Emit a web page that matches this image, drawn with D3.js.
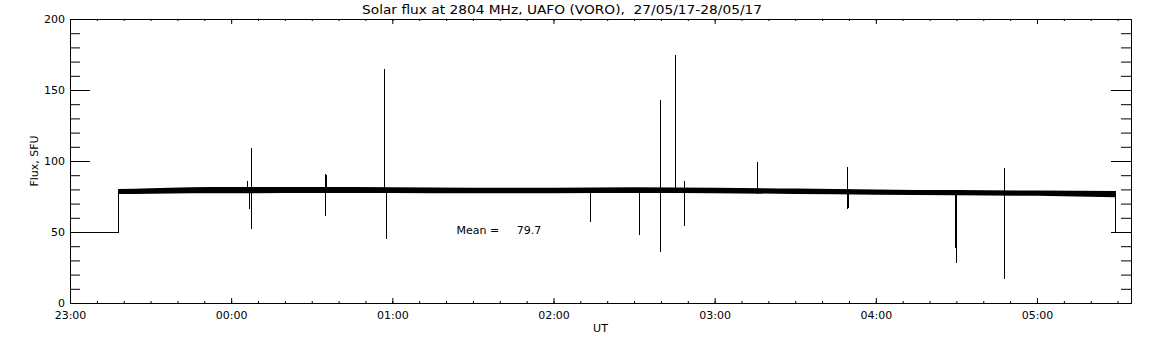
<!DOCTYPE html>
<html>
<head>
<meta charset="utf-8">
<script src="https://cdn.jsdelivr.net/npm/d3@7"></script>
<style>
  body { margin: 0; background: #fff; }
  svg { display: block; }
  text { font-family: "DejaVu Sans", sans-serif; font-size: 11px; fill: #000; white-space: pre; }
</style>
</head>
<body>
<div class="svgWrapper"></div>
<script>
// Data: time in minutes after 23:00 UT, flux in SFU
const title = "Solar flux at 2804 MHz, UAFO (VORO),  27/05/17-28/05/17";
const meanFlux = 79.7;

// receiver off (flat 50) before and after the record
const leadIn = [[0, 50], [17.9, 50], [17.9, 78.5]];
const leadOut = [[389.4, 76.5], [389.4, 50], [395, 50]];

// the noisy record, as its lower and upper edge
const bandTimes = [17.9, 30, 45, 60, 90, 120, 150, 180, 210, 240, 270, 300, 330, 360, 389.4];
const bandLow = [76.8, 77.0, 77.3, 77.3, 77.5, 77.5, 77.3, 77.3, 77.4, 77.3, 76.8, 76.3, 75.8, 75.5, 74.4];
const bandHigh = [80.2, 80.8, 81.5, 81.7, 81.7, 81.5, 81.2, 81.2, 81.5, 81.2, 80.6, 80.0, 79.5, 79.2, 78.8];

// spikes: time, bottom, top
const spikeTimes = [65.9, 66.6, 67.4, 94.9, 95.3, 116.9, 117.5, 193.7, 211.7, 219.6, 225.2, 228.5, 255.7, 289.1, 289.5, 329.6, 329.8, 347.9];
const spikeLow = [79, 66, 52, 61, 78, 79, 45, 57, 48, 36, 79, 54, 77, 66, 67, 39, 28, 17];
const spikeHigh = [86, 80, 109, 91, 90, 165, 79, 79, 79, 143, 175, 86, 99, 96, 80, 78, 78, 95];

const yTicks = [0, 50, 100, 150, 200];
const yMinor = d3.range(0, 201, 10);

// Settings //
const svgStyles = { w: 1152, h: 345 };
const plot = { left: 70, right: 1131, top: 19, bottom: 303 };

const t0 = new Date(Date.UTC(2017, 4, 27, 23, 0));
const toDate = m => new Date(+t0 + m * 60000);

const x = d3
  .scaleUtc()
  .domain([toDate(0), toDate(395)])
  .range([plot.left, plot.right]);

const y = d3
  .scaleLinear()
  .domain([0, 200])
  .range([plot.bottom, plot.top]);

const svg = d3
  .select(".svgWrapper")
  .append("svg")
  .attr("width", svgStyles.w)
  .attr("height", svgStyles.h);

// title
svg
  .append("text")
  .attr("x", 362)
  .attr("y", 14)
  .attr("textLength", 400)
  .attr("lengthAdjust", "spacingAndGlyphs")
  .style("font-size", "12px")
  .text(title);

// axis titles
svg
  .append("text")
  .attr("x", (plot.left + plot.right) / 2)
  .attr("y", 332)
  .attr("text-anchor", "middle")
  .text("UT");

svg
  .append("text")
  .attr("transform", `translate(38, ${(plot.top + plot.bottom) / 2}) rotate(-90)`)
  .attr("text-anchor", "middle")
  .text("Flux, SFU");

// frame and ticks
const hourTicks = x.ticks(d3.utcHour.every(1));
const minuteTicks = x.ticks(d3.utcMinute.every(10));

function tidy(g) {
  g.select(".domain").attr("stroke", "#000");
  g.selectAll(".tick line").attr("stroke", "#000");
}

// bottom
svg.append("g").attr("transform", `translate(0, ${plot.bottom})`)
  .call(d3.axisTop(x).tickValues(minuteTicks).tickSize(2).tickSizeOuter(0).tickFormat(""))
  .call(tidy);
svg.append("g").attr("transform", `translate(0, ${plot.bottom})`)
  .call(d3.axisTop(x).tickValues(hourTicks).tickSize(5).tickSizeOuter(0).tickFormat(""))
  .call(tidy);
svg.append("g").attr("transform", `translate(0, ${plot.bottom})`)
  .call(d3.axisBottom(x).tickValues(hourTicks).tickSize(0).tickPadding(8).tickFormat(d3.utcFormat("%H:%M")))
  .call(g => g.select(".domain").remove());

// top
svg.append("g").attr("transform", `translate(0, ${plot.top})`)
  .call(d3.axisBottom(x).tickValues(minuteTicks).tickSize(2).tickSizeOuter(0).tickFormat(""))
  .call(tidy);
svg.append("g").attr("transform", `translate(0, ${plot.top})`)
  .call(d3.axisBottom(x).tickValues(hourTicks).tickSize(5).tickSizeOuter(0).tickFormat(""))
  .call(tidy);

// left
svg.append("g").attr("transform", `translate(${plot.left}, 0)`)
  .call(d3.axisRight(y).tickValues(yMinor).tickSize(10).tickSizeOuter(0).tickFormat(""))
  .call(tidy);
svg.append("g").attr("transform", `translate(${plot.left}, 0)`)
  .call(d3.axisRight(y).tickValues(yTicks).tickSize(20).tickSizeOuter(0).tickFormat(""))
  .call(tidy);
svg.append("g").attr("transform", `translate(${plot.left}, 0)`)
  .call(d3.axisLeft(y).tickValues(yTicks).tickSize(0).tickPadding(5))
  .call(g => g.select(".domain").remove());

// right
svg.append("g").attr("transform", `translate(${plot.right}, 0)`)
  .call(d3.axisLeft(y).tickValues(yMinor).tickSize(10).tickSizeOuter(0).tickFormat(""))
  .call(tidy);
svg.append("g").attr("transform", `translate(${plot.right}, 0)`)
  .call(d3.axisLeft(y).tickValues(yTicks).tickSize(20).tickSizeOuter(0).tickFormat(""))
  .call(tidy);

// data
const chart = svg.append("g").attr("class", "chart");

const line = d3.line().x(d => x(toDate(d[0]))).y(d => y(d[1]));

chart.selectAll(".lead")
  .data([leadIn, leadOut])
  .enter()
  .append("path")
  .attr("class", "lead")
  .attr("d", line)
  .attr("fill", "none")
  .attr("stroke", "#000")
  .attr("shape-rendering", "crispEdges");

const band = bandTimes.map((t, i) => ({ t, lo: bandLow[i], hi: bandHigh[i] }));

chart.append("path")
  .datum(band)
  .attr("d", d3.area().curve(d3.curveMonotoneX).x(d => x(toDate(d.t))).y0(d => y(d.lo)).y1(d => y(d.hi)))
  .attr("fill", "#000");

const spikes = spikeTimes.map((t, i) => ({ t, lo: spikeLow[i], hi: spikeHigh[i] }));

chart.selectAll(".spike")
  .data(spikes)
  .enter()
  .append("line")
  .attr("class", "spike")
  .attr("x1", d => Math.round(x(toDate(d.t))) + 0.5)
  .attr("x2", d => Math.round(x(toDate(d.t))) + 0.5)
  .attr("y1", d => y(d.lo))
  .attr("y2", d => y(d.hi))
  .attr("stroke", "#000")
  .attr("shape-rendering", "crispEdges");

// mean label
svg
  .append("text")
  .attr("x", x(toDate(143.9)))
  .attr("y", y(48.5))
  .text(`Mean =     ${meanFlux.toFixed(1)}`);
</script>
</body>
</html>
